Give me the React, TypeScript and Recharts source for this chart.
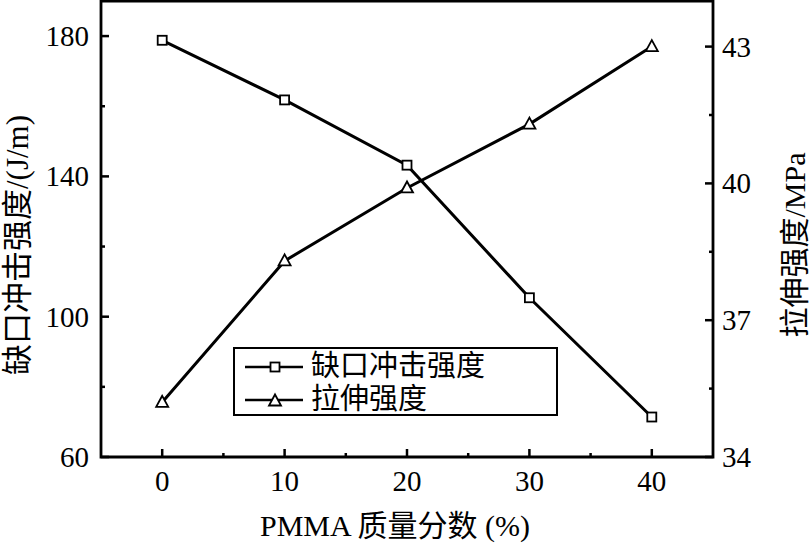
import React from "react";
import { LineChart, Line, XAxis, YAxis, ReferenceArea } from "recharts";

// PMMA content (%)
const pmmaContent = [0, 10, 20, 30, 40];
// notched impact strength (J/m), left axis
const impactStrength = [178.8, 161.8, 143.2, 105.4, 71.4];
// tensile strength (MPa), right axis
const tensileStrength = [35.2, 38.3, 39.9, 41.3, 43.0];

const seriesNames = ["缺口冲击强度", "拉伸强度"];

const xTicks = [0, 5, 10, 15, 20, 25, 30, 35, 40];
const xMajor = [0, 10, 20, 30, 40];
const leftTicks = [60, 80, 100, 120, 140, 160, 180];
const leftMajor = [60, 100, 140, 180];
const rightTicks = [34, 35.5, 37, 38.5, 40, 41.5, 43];
const rightMajor = [34, 37, 40, 43];

const data = pmmaContent.map((x, i) => ({
  x,
  impact: impactStrength[i],
  tensile: tensileStrength[i],
}));

const SERIF = '"Liberation Serif", "Times New Roman", "Noto Sans CJK SC", serif';
const INK = "#000";

const XTick = ({ x, y, payload }: any) => {
  const major = xMajor.includes(payload.value);
  return (
    <g>
      <line x1={x} y1={y} x2={x} y2={y - (major ? 8 : 4)} stroke={INK} strokeWidth={2.5} />
      {major && (
        <text x={x} y={y + 24} textAnchor="middle" dominantBaseline="central" fontSize={29} fontFamily={SERIF} fill={INK}>
          {payload.value}
        </text>
      )}
    </g>
  );
};

const LeftTick = ({ x, y, payload }: any) => {
  const major = leftMajor.includes(payload.value);
  return (
    <g>
      <line x1={x} y1={y} x2={x + (major ? 8 : 4)} y2={y} stroke={INK} strokeWidth={2.5} />
      {major && (
        <text x={x - 12} y={y} textAnchor="end" dominantBaseline="central" fontSize={29} fontFamily={SERIF} fill={INK}>
          {payload.value}
        </text>
      )}
    </g>
  );
};

const RightTick = ({ x, y, payload }: any) => {
  const major = rightMajor.includes(payload.value);
  return (
    <g>
      <line x1={x} y1={y} x2={x - (major ? 8 : 4)} y2={y} stroke={INK} strokeWidth={2.5} />
      {major && (
        <text x={x + 9} y={y} textAnchor="start" dominantBaseline="central" fontSize={29} fontFamily={SERIF} fill={INK}>
          {payload.value}
        </text>
      )}
    </g>
  );
};

const SquareDot = ({ cx, cy }: any) => (
  <rect x={cx - 4.5} y={cy - 4.5} width={9} height={9} fill="#fff" stroke={INK} strokeWidth={1.8} />
);

const TriangleDot = ({ cx, cy }: any) => (
  <polygon
    points={`${cx},${cy - 6.5} ${cx - 6},${cy + 4.5} ${cx + 6},${cy + 4.5}`}
    fill="#fff"
    stroke={INK}
    strokeWidth={1.8}
  />
);

const LeftTitle = ({ viewBox }: any) => {
  const cx = viewBox.x + 17;
  const cy = viewBox.y + viewBox.height / 2 + 16;
  return (
    <text x={cx} y={cy} transform={`rotate(-90 ${cx} ${cy})`} textAnchor="middle" dominantBaseline="central" fontSize={31} fontFamily={SERIF} fill={INK}>
      缺口冲击强度/(J/m)
    </text>
  );
};

const RightTitle = ({ viewBox }: any) => {
  const cx = viewBox.x + 81;
  const cy = viewBox.y + viewBox.height / 2 + 16;
  return (
    <text x={cx} y={cy} transform={`rotate(-90 ${cx} ${cy})`} textAnchor="middle" dominantBaseline="central" fontSize={30} fontFamily={SERIF} fill={INK}>
      拉伸强度/MPa
    </text>
  );
};

const BottomTitle = ({ viewBox }: any) => {
  const cx = viewBox.x + viewBox.width / 2 - 12;
  return (
    <text x={cx} y={525} textAnchor="middle" dominantBaseline="central" fontSize={30} fontFamily={SERIF} fill={INK}>
      PMMA 质量分数 (%)
    </text>
  );
};

const LegendRow = ({ label, marker }: { label: string; marker: "square" | "triangle" }) => (
  <div style={{ display: "flex", alignItems: "center", height: 33 }}>
    <svg width={68} height={20} style={{ marginLeft: 8, flex: "none" }}>
      <line x1={2} y1={10} x2={60} y2={10} stroke={INK} strokeWidth={2.5} />
      {marker === "square" ? <SquareDot cx={32} cy={10} /> : <TriangleDot cx={32} cy={11} />}
    </svg>
    <span style={{ fontSize: 29, fontFamily: SERIF, lineHeight: "33px", color: INK }}>{label}</span>
  </div>
);

export default function App() {
  return (
    <div style={{ position: "absolute", left: 0, top: 0, width: 811, height: 543, background: "#fff" }}>
      <LineChart width={811} height={543} data={data} margin={{ top: 1, right: 0, bottom: 0, left: 0 }}>
        <XAxis
          dataKey="x"
          type="number"
          domain={[-5, 45]}
          ticks={xTicks}
          allowDataOverflow
          height={86}
          axisLine={false}
          tickLine={false}
          tickSize={0}
          tickMargin={0}
          tick={<XTick />}
          label={<BottomTitle />}
        />
        <YAxis
          yAxisId="left"
          orientation="left"
          domain={[60, 190]}
          ticks={leftTicks}
          allowDataOverflow
          width={101}
          axisLine={false}
          tickLine={false}
          tickSize={0}
          tickMargin={0}
          tick={<LeftTick />}
          label={<LeftTitle />}
        />
        <YAxis
          yAxisId="right"
          orientation="right"
          domain={[34, 44]}
          ticks={rightTicks}
          allowDataOverflow
          width={98}
          axisLine={false}
          tickLine={false}
          tickSize={0}
          tickMargin={0}
          tick={<RightTick />}
          label={<RightTitle />}
        />
        <ReferenceArea
          yAxisId="left"
          x1={-5}
          x2={45}
          y1={60}
          y2={190}
          fill="none"
          fillOpacity={0}
          stroke={INK}
          strokeWidth={2.8}
        />
        <Line
          yAxisId="left"
          dataKey="impact"
          name={seriesNames[0]}
          type="linear"
          stroke={INK}
          strokeWidth={3}
          dot={<SquareDot />}
          activeDot={false}
          isAnimationActive={false}
        />
        <Line
          yAxisId="right"
          dataKey="tensile"
          name={seriesNames[1]}
          type="linear"
          stroke={INK}
          strokeWidth={3}
          dot={<TriangleDot />}
          activeDot={false}
          isAnimationActive={false}
        />
      </LineChart>
      <div
        style={{
          position: "absolute",
          left: 233,
          top: 347,
          width: 321,
          height: 64,
          border: "2px solid #000",
          background: "#fff",
          paddingTop: 1,
          boxSizing: "content-box",
        }}
      >
        <LegendRow label={seriesNames[0]} marker="square" />
        <LegendRow label={seriesNames[1]} marker="triangle" />
      </div>
    </div>
  );
}
